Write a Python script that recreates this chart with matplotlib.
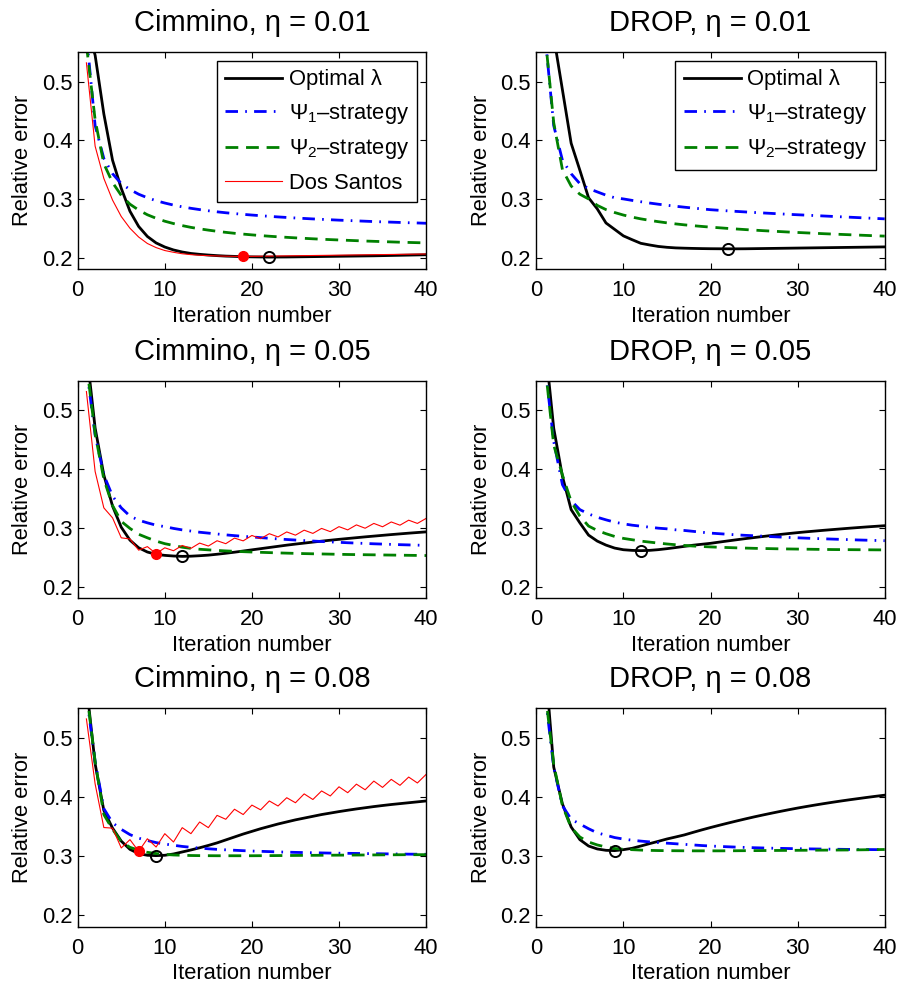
import matplotlib
matplotlib.use("Agg")
import matplotlib.pyplot as plt

plt.rcParams["font.family"] = ["Liberation Sans", "DejaVu Sans"]
plt.rcParams["mathtext.fontset"] = "custom"
plt.rcParams["mathtext.rm"] = "Liberation Sans"
plt.rcParams["mathtext.it"] = "Liberation Sans:italic"
plt.rcParams["mathtext.bf"] = "Liberation Sans:bold"

ITER = list(range(1, 41))

# Cimmino, eta = 0.01
C01_OPT = [0.600, 0.545, 0.445, 0.366, 0.318, 0.279, 0.253, 0.236, 0.225, 0.218,
           0.213, 0.2095, 0.207, 0.2055, 0.2043, 0.2033, 0.2025, 0.202, 0.2015, 0.2012,
           0.201, 0.2008, 0.2009, 0.201, 0.2012, 0.2014, 0.2016, 0.2018, 0.202, 0.2022,
           0.2024, 0.2026, 0.2028, 0.203, 0.2033, 0.2036, 0.2039, 0.2042, 0.2045, 0.2048]
C01_PSI1 = [0.581, 0.425, 0.369, 0.343, 0.326, 0.316, 0.308, 0.302, 0.297, 0.293,
            0.2895, 0.2865, 0.284, 0.2818, 0.2798, 0.278, 0.2764, 0.275, 0.2737, 0.2725,
            0.2714, 0.2703, 0.2693, 0.2684, 0.2675, 0.2667, 0.2659, 0.2652, 0.2645, 0.2638,
            0.2632, 0.2626, 0.262, 0.2614, 0.2609, 0.2604, 0.2599, 0.2594, 0.259, 0.2585]
C01_PSI2 = [0.563, 0.435, 0.360, 0.328, 0.306, 0.291, 0.281, 0.273, 0.267, 0.262,
            0.258, 0.2545, 0.2515, 0.249, 0.2468, 0.2448, 0.243, 0.2414, 0.240, 0.2387,
            0.2375, 0.2364, 0.2354, 0.2345, 0.2336, 0.2328, 0.232, 0.2313, 0.2306, 0.230,
            0.2294, 0.2288, 0.2282, 0.2277, 0.2272, 0.2267, 0.2262, 0.2258, 0.2254, 0.225]
C01_DS = [0.532, 0.390, 0.335, 0.298, 0.270, 0.250, 0.235, 0.224, 0.217, 0.212,
          0.209, 0.2065, 0.205, 0.204, 0.2033, 0.2028, 0.2024, 0.2021, 0.2019, 0.2021,
          0.2023, 0.2025, 0.2027, 0.2029, 0.2031, 0.2033, 0.2035, 0.2037, 0.2039, 0.2041,
          0.2043, 0.2045, 0.2047, 0.2049, 0.2051, 0.2053, 0.2055, 0.2057, 0.2059, 0.2061]

# DROP, eta = 0.01
D01_OPT = [0.750, 0.577, 0.486, 0.395, 0.349, 0.302, 0.283, 0.259, 0.248, 0.237,
           0.2305, 0.2243, 0.2215, 0.219, 0.2175, 0.2165, 0.216, 0.2156, 0.2153, 0.2151,
           0.215, 0.2149, 0.2149, 0.215, 0.2152, 0.2154, 0.2156, 0.2158, 0.216, 0.2162,
           0.2164, 0.2166, 0.2168, 0.217, 0.2172, 0.2174, 0.2176, 0.2178, 0.218, 0.2182]
D01_PSI1 = [0.580, 0.425, 0.366, 0.343, 0.326, 0.3177, 0.312, 0.3064, 0.302, 0.300,
            0.2975, 0.2952, 0.293, 0.291, 0.2892, 0.2875, 0.2859, 0.2844, 0.283, 0.2816,
            0.2806, 0.2796, 0.2787, 0.2778, 0.2769, 0.2761, 0.2753, 0.2745, 0.2737, 0.273,
            0.2723, 0.2716, 0.2709, 0.2702, 0.2695, 0.2688, 0.2681, 0.2674, 0.2667, 0.266]
D01_PSI2 = [0.580, 0.430, 0.350, 0.322, 0.308, 0.300, 0.289, 0.2818, 0.2768, 0.2725,
            0.269, 0.266, 0.2635, 0.2612, 0.2592, 0.2574, 0.2558, 0.2544, 0.2531, 0.2519,
            0.2508, 0.2497, 0.2487, 0.2477, 0.2468, 0.2459, 0.2451, 0.2443, 0.2435, 0.2428,
            0.2421, 0.2414, 0.2407, 0.2401, 0.2395, 0.2389, 0.2383, 0.2377, 0.2371, 0.2366]

# Cimmino, eta = 0.05
C05_OPT = [0.603, 0.470, 0.390, 0.337, 0.301, 0.279, 0.266, 0.2588, 0.2548, 0.2531,
           0.252, 0.2514, 0.2517, 0.2525, 0.2535, 0.255, 0.2567, 0.2585, 0.2605, 0.2625,
           0.2645, 0.2665, 0.2685, 0.2705, 0.2723, 0.274, 0.2757, 0.2773, 0.2789, 0.2804,
           0.2818, 0.2832, 0.2846, 0.2859, 0.2872, 0.2885, 0.2897, 0.2909, 0.292, 0.2931]
C05_PSI1 = [0.573, 0.458, 0.390, 0.354, 0.334, 0.320, 0.313, 0.3085, 0.3045, 0.302,
            0.299, 0.2965, 0.2945, 0.2925, 0.291, 0.2895, 0.288, 0.2867, 0.2855, 0.2845,
            0.2833, 0.2822, 0.2811, 0.2801, 0.2792, 0.2783, 0.2775, 0.2767, 0.276, 0.2753,
            0.2746, 0.274, 0.2734, 0.2728, 0.2723, 0.2718, 0.2713, 0.2709, 0.2705, 0.2701]
C05_PSI2 = [0.580, 0.460, 0.383, 0.338, 0.311, 0.299, 0.289, 0.283, 0.2774, 0.273,
            0.270, 0.267, 0.265, 0.2635, 0.2625, 0.2615, 0.2607, 0.260, 0.2594, 0.2588,
            0.2583, 0.2578, 0.2573, 0.2569, 0.2565, 0.2561, 0.2558, 0.2555, 0.2552, 0.2549,
            0.2546, 0.2544, 0.2542, 0.254, 0.2538, 0.2536, 0.2534, 0.2532, 0.253, 0.2528]
C05_DS = [0.532, 0.396, 0.334, 0.317, 0.283, 0.281, 0.262, 0.268, 0.256, 0.266,
          0.261, 0.270, 0.265, 0.274, 0.269, 0.278, 0.273, 0.2825, 0.2778, 0.287,
          0.2815, 0.290, 0.2845, 0.293, 0.2875, 0.296, 0.2905, 0.299, 0.2935, 0.302,
          0.2965, 0.305, 0.2993, 0.3075, 0.3018, 0.310, 0.3045, 0.313, 0.3075, 0.316]

# DROP, eta = 0.05
D05_OPT = [0.615, 0.4695, 0.3876, 0.331, 0.3085, 0.2876, 0.2774, 0.2706, 0.2655, 0.2627,
           0.2616, 0.2611, 0.2616, 0.2628, 0.2645, 0.2664, 0.2684, 0.2704, 0.272, 0.2736,
           0.2757, 0.2777, 0.2797, 0.2816, 0.2834, 0.2852, 0.287, 0.2887, 0.2903, 0.2918,
           0.2932, 0.2945, 0.2958, 0.297, 0.2982, 0.2994, 0.3005, 0.3016, 0.3026, 0.3036]
D05_PSI1 = [0.576, 0.447, 0.3735, 0.3463, 0.331, 0.3237, 0.318, 0.3136, 0.3096, 0.3068,
            0.3045, 0.3028, 0.3011, 0.2994, 0.2983, 0.2966, 0.2955, 0.294, 0.2925, 0.291,
            0.290, 0.289, 0.288, 0.2872, 0.2865, 0.2858, 0.285, 0.2843, 0.2836, 0.283,
            0.2824, 0.2818, 0.2813, 0.2808, 0.2803, 0.2798, 0.2793, 0.2789, 0.2785, 0.2781]
D05_PSI2 = [0.577, 0.441, 0.390, 0.345, 0.320, 0.303, 0.2955, 0.290, 0.2853, 0.282,
            0.2797, 0.2774, 0.2757, 0.274, 0.2725, 0.2712, 0.270, 0.269, 0.2682, 0.2675,
            0.2669, 0.2664, 0.2659, 0.2655, 0.2651, 0.2648, 0.2645, 0.2642, 0.264, 0.2638,
            0.2636, 0.2634, 0.2632, 0.263, 0.2629, 0.2628, 0.2627, 0.2626, 0.2625, 0.2624]

# Cimmino, eta = 0.08
C08_OPT = [0.590, 0.456, 0.377, 0.347, 0.325, 0.311, 0.3038, 0.301, 0.3004, 0.301,
           0.3032, 0.3066, 0.310, 0.3137, 0.3177, 0.322, 0.327, 0.332, 0.337, 0.3415,
           0.346, 0.350, 0.354, 0.3575, 0.361, 0.364, 0.367, 0.370, 0.3725, 0.375,
           0.3773, 0.3795, 0.3815, 0.3835, 0.3853, 0.387, 0.3885, 0.390, 0.3915, 0.393]
C08_PSI1 = [0.5725, 0.460, 0.380, 0.356, 0.345, 0.336, 0.330, 0.326, 0.3225, 0.320,
            0.318, 0.316, 0.3145, 0.3132, 0.312, 0.311, 0.3102, 0.3095, 0.3088, 0.3082,
            0.3077, 0.3072, 0.3067, 0.3063, 0.3059, 0.3056, 0.3053, 0.305, 0.3047, 0.3045,
            0.3043, 0.3041, 0.3039, 0.3037, 0.3035, 0.3033, 0.3031, 0.3029, 0.3028, 0.3027]
C08_PSI2 = [0.580, 0.460, 0.370, 0.345, 0.324, 0.3145, 0.3095, 0.306, 0.304, 0.3025,
            0.3015, 0.301, 0.3006, 0.3004, 0.3003, 0.3002, 0.3002, 0.3002, 0.3002, 0.3002,
            0.3003, 0.3004, 0.3005, 0.3006, 0.3007, 0.3008, 0.3009, 0.301, 0.3011, 0.3012,
            0.3013, 0.3014, 0.3015, 0.3016, 0.3017, 0.3018, 0.3019, 0.302, 0.302, 0.3021]
C08_DS = [0.532, 0.422, 0.348, 0.347, 0.3134, 0.3275, 0.3077, 0.329, 0.315, 0.3376,
          0.3235, 0.3478, 0.3376, 0.3574, 0.3478, 0.3686, 0.362, 0.379, 0.370, 0.386,
          0.378, 0.393, 0.3845, 0.3985, 0.390, 0.405, 0.3955, 0.410, 0.4015, 0.417,
          0.407, 0.4215, 0.412, 0.4267, 0.416, 0.4296, 0.4195, 0.4335, 0.4235, 0.438]

# DROP, eta = 0.08
D08_OPT = [0.632, 0.4504, 0.388, 0.349, 0.3275, 0.3167, 0.3117, 0.3094, 0.3089, 0.3105,
           0.3128, 0.3167, 0.3207, 0.3246, 0.3286, 0.332, 0.3355, 0.3398, 0.344, 0.348,
           0.3518, 0.3555, 0.3591, 0.3626, 0.366, 0.3692, 0.3723, 0.3753, 0.3782, 0.381,
           0.3836, 0.3861, 0.3885, 0.3908, 0.393, 0.3951, 0.3971, 0.3991, 0.401, 0.4028]
D08_PSI1 = [0.575, 0.450, 0.385, 0.362, 0.354, 0.346, 0.339, 0.335, 0.331, 0.3285,
            0.3265, 0.325, 0.3237, 0.3225, 0.3215, 0.3205, 0.3195, 0.3185, 0.3175, 0.3167,
            0.316, 0.3154, 0.3148, 0.3143, 0.3138, 0.3134, 0.313, 0.3127, 0.3124, 0.3121,
            0.3119, 0.3117, 0.3115, 0.3113, 0.3111, 0.3109, 0.3108, 0.3107, 0.3106, 0.3105]
D08_PSI2 = [0.580, 0.455, 0.385, 0.348, 0.332, 0.3235, 0.3185, 0.315, 0.3125, 0.3112,
            0.3105, 0.3098, 0.3093, 0.309, 0.3088, 0.3087, 0.3086, 0.3085, 0.3085, 0.3085,
            0.3085, 0.3086, 0.3087, 0.3088, 0.3089, 0.309, 0.3091, 0.3092, 0.3093, 0.3094,
            0.3095, 0.3096, 0.3097, 0.3098, 0.3099, 0.310, 0.3102, 0.3104, 0.3106, 0.3108]

TITLES = ["Cimmino, η = 0.01", "DROP, η = 0.01",
          "Cimmino, η = 0.05", "DROP, η = 0.05",
          "Cimmino, η = 0.08", "DROP, η = 0.08"]
OPT = [C01_OPT, D01_OPT, C05_OPT, D05_OPT, C08_OPT, D08_OPT]
PSI1 = [C01_PSI1, D01_PSI1, C05_PSI1, D05_PSI1, C08_PSI1, D08_PSI1]
PSI2 = [C01_PSI2, D01_PSI2, C05_PSI2, D05_PSI2, C08_PSI2, D08_PSI2]
DS = [C01_DS, None, C05_DS, None, C08_DS, None]
# iteration of the marked minimum: optimal lambda (circle), Dos Santos (dot)
OPT_MIN = [22, 22, 12, 12, 9, 9]
DS_MIN = [19, None, 9, None, 7, None]

LABELS = ["Optimal λ", r"$\Psi_1$–strategy", r"$\Psi_2$–strategy", "Dos Santos"]

W, H = 898, 984
COLS = [77.7, 536.3]
ROWS = [(52.3, 269.3), (381.0, 598.3), (708.3, 926.7)]
AX_W = 348.4

FS = 15.8

fig = plt.figure(figsize=(W / 100, H / 100), dpi=100)

for i in range(6):
    r, c = divmod(i, 2)
    top, bot = ROWS[r]
    ax = fig.add_axes([COLS[c] / W, 1 - bot / H, AX_W / W, (bot - top) / H])

    h_opt, = ax.plot(ITER, OPT[i], color="black", lw=2.0, label=LABELS[0])
    h_p1, = ax.plot(ITER, PSI1[i], color="blue", lw=2.0,
                    linestyle=(0, (4.5, 2.6, 0.6, 2.6)), label=LABELS[1])
    h_p2, = ax.plot(ITER, PSI2[i], color=(0, 0.5, 0), lw=2.0,
                    linestyle=(0, (4.6, 2.8)), label=LABELS[2])
    handles = [h_opt, h_p1, h_p2]
    if DS[i] is not None:
        h_ds, = ax.plot(ITER, DS[i], color="red", lw=0.8, label=LABELS[3])
        handles.append(h_ds)
        k = DS_MIN[i]
        ax.plot(ITER[k - 1], DS[i][k - 1], "o", color="red", ms=7, zorder=5)
    k = OPT_MIN[i]
    ax.plot(ITER[k - 1], OPT[i][k - 1], "o", mfc="none", mec="black",
            mew=1.4, ms=8, zorder=6)

    ax.set_xlim(0, 40)
    ax.set_ylim(0.18, 0.55)
    ax.set_xticks([0, 10, 20, 30, 40])
    ax.set_yticks([0.2, 0.3, 0.4, 0.5])
    ax.set_yticklabels(["0.2", "0.3", "0.4", "0.5"])
    ax.tick_params(direction="in", top=True, right=True, length=4, width=0.8,
                   labelsize=FS)
    ax.tick_params(axis="x", pad=8)
    ax.tick_params(axis="y", pad=4)
    for s in ax.spines.values():
        s.set_linewidth(1.0)

    ax.set_title(TITLES[i], fontsize=21, pad=15)
    ax.set_xlabel("Iteration number", fontsize=FS, labelpad=3)
    ax.set_ylabel("Relative error", fontsize=FS, labelpad=6)

    if r == 0:
        leg = ax.legend(handles=handles, loc="upper right", fontsize=FS,
                        frameon=True, fancybox=False, framealpha=1,
                        edgecolor="black", borderaxespad=0.4, handlelength=2.6,
                        handletextpad=0.3, labelspacing=0.52, borderpad=0.38)
        leg.get_frame().set_linewidth(1.0)

fig.savefig("out.png", dpi=100, facecolor="white")
